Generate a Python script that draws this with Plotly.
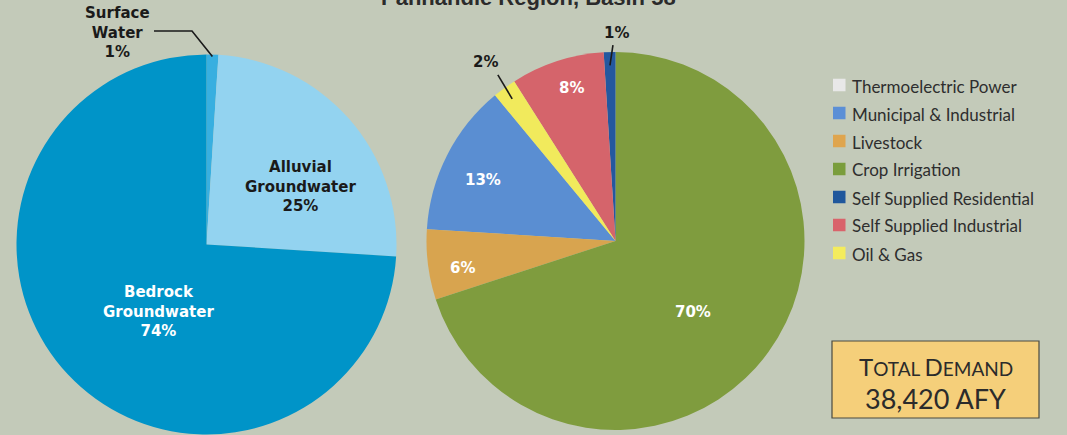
import math
import plotly.graph_objects as go

# ---- data ----
source_labels = ["Surface Water", "Alluvial Groundwater", "Bedrock Groundwater"]
source_values = [1, 25, 74]
source_colors = ["#38afe0", "#93d3f0", "#0094c8"]

demand_labels = ["Thermoelectric Power", "Municipal & Industrial", "Livestock",
                 "Crop Irrigation", "Self Supplied Residential",
                 "Self Supplied Industrial", "Oil & Gas"]
demand_values = [0, 13, 6, 70, 1, 8, 2]
demand_colors = ["#e6e6e6", "#5a8ed2", "#d8a44f", "#7f9c3e", "#24589f",
                 "#d5646b", "#f1ea5c"]
legend_colors = ["#e8e8e8", "#5b8fd6", "#dfa54e", "#7a9d3c", "#1f579c",
                 "#d9636b", "#f4ec5c"]

title_text = "Panhandle Region, Basin 58"
total_demand = 38420

W, H = 1067, 435
BG = "#c3cab9"


def px(x):
    return x / W


def py(y):
    return 1 - y / H


# pie geometry (pixels)
L_CX, L_CY, L_R = 206.5, 244.5, 190.0
R_CX, R_CY, R_R = 615.5, 241.0, 189.0

fig = go.Figure()

fig.add_trace(go.Pie(
    labels=source_labels, values=source_values, sort=False,
    direction="clockwise", rotation=0, textinfo="none", hoverinfo="label+percent",
    marker=dict(colors=source_colors, line=dict(width=0)),
    domain=dict(x=[px(L_CX - L_R), px(L_CX + L_R)],
                y=[py(L_CY + L_R), py(L_CY - L_R)]),
    showlegend=False,
))

# right pie: counter-clockwise so crop irrigation ends at 12 o'clock
r_total = sum(demand_values)
crop_idx = demand_labels.index("Crop Irrigation")
r_rotation = 360 * sum(demand_values[:crop_idx + 1]) / r_total

fig.add_trace(go.Pie(
    labels=demand_labels, values=demand_values, sort=False,
    direction="counterclockwise", rotation=r_rotation, textinfo="none",
    hoverinfo="label+percent",
    marker=dict(colors=demand_colors, line=dict(width=0)),
    domain=dict(x=[px(R_CX - R_R), px(R_CX + R_R)],
                y=[py(R_CY + R_R), py(R_CY - R_R)]),
    showlegend=False,
))

# mid angles (degrees clockwise from 12 o'clock)
l_total = sum(source_values)
l_mid = []
acc = 0
for v in source_values:
    l_mid.append(360 * (acc + v / 2) / l_total)
    acc += v

r_mid = []
acc = 0
for v in demand_values:
    start = r_rotation - 360 * acc / r_total
    r_mid.append(start - 180 * v / r_total)
    acc += v


def polar(cx, cy, r, ang):
    a = math.radians(ang)
    return cx + r * math.sin(a), cy - r * math.cos(a)


def note(x, y, text, font, xanchor="center"):
    return dict(x=px(x), y=py(y), xref="paper", yref="paper", showarrow=False,
                xanchor=xanchor, yanchor="middle", text=text, font=font)


annotations = []
shapes = []
LABEL_FONT = "DejaVu Sans"

# label placement: (radius fraction, angle tweak, colour)
left_style = [(1.21, -24.7, "#1a1a1a"), (0.58, 9.5, "#1a1a1a"), (0.437, -11.1, "white")]
left_text = ["Surface<br>Water<br>{}%", "Alluvial<br>Groundwater<br>{}%",
             "Bedrock<br>Groundwater<br>{}%"]
for i, v in enumerate(source_values):
    rf, dth, col = left_style[i]
    x, y = polar(L_CX, L_CY, L_R * rf, l_mid[i] + dth)
    annotations.append(note(x, y, "<b>" + left_text[i].format(v) + "</b>",
                            dict(family=LABEL_FONT, size=15, color=col)))

# surface water leader line
ex, ey = polar(L_CX, L_CY, L_R * 0.99, l_mid[0])
shapes.append(dict(
    type="path", xref="paper", yref="paper",
    path=f"M {px(154)} {py(31)} L {px(192)} {py(31)} L {px(ex)} {py(ey)}",
    line=dict(color="#1a1a1a", width=1.6),
))

right_style = {
    "Municipal & Industrial": (0.77, -2.3, "white"),
    "Livestock": (0.82, -2.8, "white"),
    "Crop Irrigation": (0.556, 6.5, "white"),
    "Self Supplied Residential": (1.10, 2.2, "#1a1a1a"),
    "Self Supplied Industrial": (0.845, 1.9, "white"),
    "Oil & Gas": (1.17, 0.1, "#1a1a1a"),
}
# leader offsets from the label centre (pixels)
leader_start = {
    "Self Supplied Residential": (-4, 12),
    "Oil & Gas": (12, 13),
}
for i, v in enumerate(demand_values):
    if v == 0:
        continue
    rf, dth, col = right_style[demand_labels[i]]
    x, y = polar(R_CX, R_CY, R_R * rf, r_mid[i] + dth)
    annotations.append(note(x, y, f"<b>{v}%</b>",
                            dict(family=LABEL_FONT, size=15, color=col)))
    if demand_labels[i] in leader_start:
        ox, oy = leader_start[demand_labels[i]]
        tx, ty = polar(R_CX, R_CY, R_R * 0.93, r_mid[i])
        shapes.append(dict(
            type="line", xref="paper", yref="paper",
            x0=px(x + ox), y0=py(y + oy), x1=px(tx), y1=py(ty),
            line=dict(color="#1a1a1a", width=1.6),
        ))

# legend
LEG_X, LEG_Y0, LEG_DY, SQ = 833, 85, 28, 12.5
for i, lab in enumerate(demand_labels):
    yc = LEG_Y0 + i * LEG_DY
    shapes.append(dict(
        type="rect", xref="paper", yref="paper",
        x0=px(LEG_X), x1=px(LEG_X + SQ), y0=py(yc + SQ / 2), y1=py(yc - SQ / 2),
        fillcolor=legend_colors[i], line=dict(width=0),
    ))
    annotations.append(note(LEG_X + SQ + 4, yc + 1, lab.replace("&", "&amp;"),
                            dict(family="Lato", size=17, color="#2e2e2e"),
                            xanchor="left"))

# total demand box
shapes.append(dict(
    type="rect", xref="paper", yref="paper",
    x0=px(832), x1=px(1039), y0=py(418), y1=py(341),
    fillcolor="#f5cf7a", line=dict(color="#4a4a40", width=1.2),
))
annotations.append(note(
    935.5, 366,
    '<span style="font-size:24px">T</span>OTAL '
    '<span style="font-size:24px">D</span>EMAND',
    dict(family="Lato", size=19, color="#2b2b2b")))
annotations.append(note(935.5, 398, f"{total_demand:,} AFY",
                        dict(family="Lato", size=27, color="#2b2b2b")))

# title, running off the top edge
annotations.append(dict(
    x=px(528), y=py(12), xref="paper", yref="paper", showarrow=False,
    xanchor="center", yanchor="bottom",
    text=f"<b>{title_text}</b>",
    font=dict(family="Liberation Sans", size=22, color="#2b2b2b"),
))

fig.update_layout(
    width=W, height=H,
    margin=dict(l=0, r=0, t=0, b=0),
    paper_bgcolor=BG, plot_bgcolor=BG,
    annotations=annotations, shapes=shapes,
)

fig.write_html("out.html")
